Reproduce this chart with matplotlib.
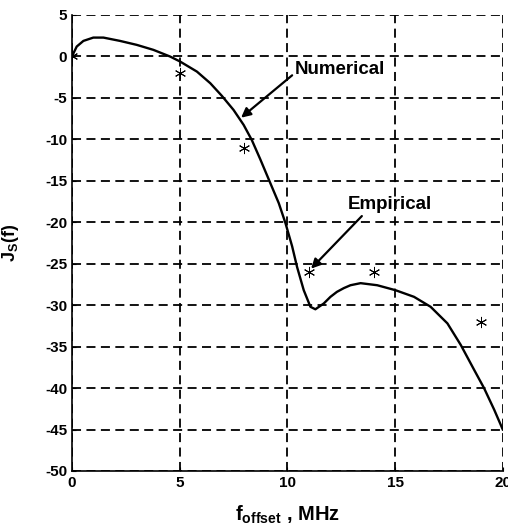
import matplotlib
matplotlib.use("Agg")
import matplotlib.pyplot as plt

plt.rcParams['font.family'] = ['Liberation Sans', 'DejaVu Sans']
plt.rcParams['font.weight'] = 'bold'
plt.rcParams['axes.labelweight'] = 'bold'
plt.rcParams['axes.unicode_minus'] = False
plt.rcParams['mathtext.fontset'] = 'custom'
plt.rcParams['mathtext.rm'] = 'Liberation Sans:bold'
plt.rcParams['mathtext.it'] = 'Liberation Sans:italic:bold'

# numerical J_S(f) curve
f_num = [0.0, 0.22, 0.53, 0.99, 1.46, 2.23, 3.01, 3.78, 4.56, 5.02, 5.8, 6.42,
         6.96, 7.5, 7.97, 8.35, 8.74, 9.21, 9.6, 9.91, 10.22, 10.45, 10.76,
         11.07, 11.3, 11.69, 12.0, 12.3, 12.62, 12.93, 13.4, 14.17, 15.02,
         15.88, 16.65, 17.43, 18.05, 18.67, 19.13, 19.6, 20.0]
js_num = [0.0, 1.18, 1.86, 2.26, 2.26, 1.86, 1.38, 0.78, -0.03, -0.63, -1.84,
          -3.24, -4.77, -6.46, -8.27, -10.1, -12.4, -15.3, -17.7, -20.1,
          -22.9, -25.4, -28.2, -30.2, -30.5, -29.8, -29.0, -28.4, -27.95,
          -27.6, -27.35, -27.6, -28.2, -29.0, -30.2, -32.2, -34.8, -37.8,
          -40.0, -42.6, -45.0]

# empirical points
f_emp = [0, 5, 8, 11, 14, 19]
js_emp = [0, -2, -11, -26, -26, -32]

x_ticks = [0, 5, 10, 15, 20]
y_ticks = [5, 0, -5, -10, -15, -20, -25, -30, -35, -40, -45, -50]

fig = plt.figure(figsize=(5.08, 5.31), dpi=100)
ax = fig.add_axes([0.1417, 0.113, 0.848, 0.859])

ax.plot(f_num, js_num, 'k-', lw=1.7, zorder=3)
ax.plot(f_emp, js_emp, 'k', ls='none', marker=(6, 2, 0), ms=8, mew=0.7,
        zorder=4)

ax.set_xlim(0, 20)
ax.set_ylim(-50, 5)
ax.set_xticks(x_ticks)
ax.set_yticks(y_ticks)
ax.tick_params(direction='in', length=3, labelsize=11, colors='black')
ax.grid(True, color='black', ls=(0, (5, 3)), lw=1.3)
ax.set_axisbelow(True)
for side in ['top', 'right']:
    ax.spines[side].set_visible(False)
for side in ['left', 'bottom']:
    ax.spines[side].set_linewidth(1.2)

ax.annotate('Numerical', xy=(7.85, -7.4), xytext=(10.35, -1.6),
            fontsize=13.5, va='center', ha='left',
            arrowprops=dict(arrowstyle='-|>', color='black', lw=1.6,
                            mutation_scale=14, shrinkA=0, shrinkB=0,
                            relpos=(0, 0.3)))
ax.annotate('Empirical', xy=(11.1, -25.6), xytext=(12.8, -17.9),
            fontsize=13.5, va='center', ha='left',
            arrowprops=dict(arrowstyle='-|>', color='black', lw=1.6,
                            mutation_scale=14, shrinkA=0, shrinkB=0,
                            relpos=(0.2, 0.0)))

ax.set_xlabel(r'f$_{\mathregular{offset}}$ , MHz', fontsize=14.5, labelpad=10)
ax.set_ylabel(r'J$_{\mathregular{S}}$(f)', fontsize=13)
ax.yaxis.set_label_coords(-0.118, 0.5)

fig.savefig('out.png', dpi=100)
